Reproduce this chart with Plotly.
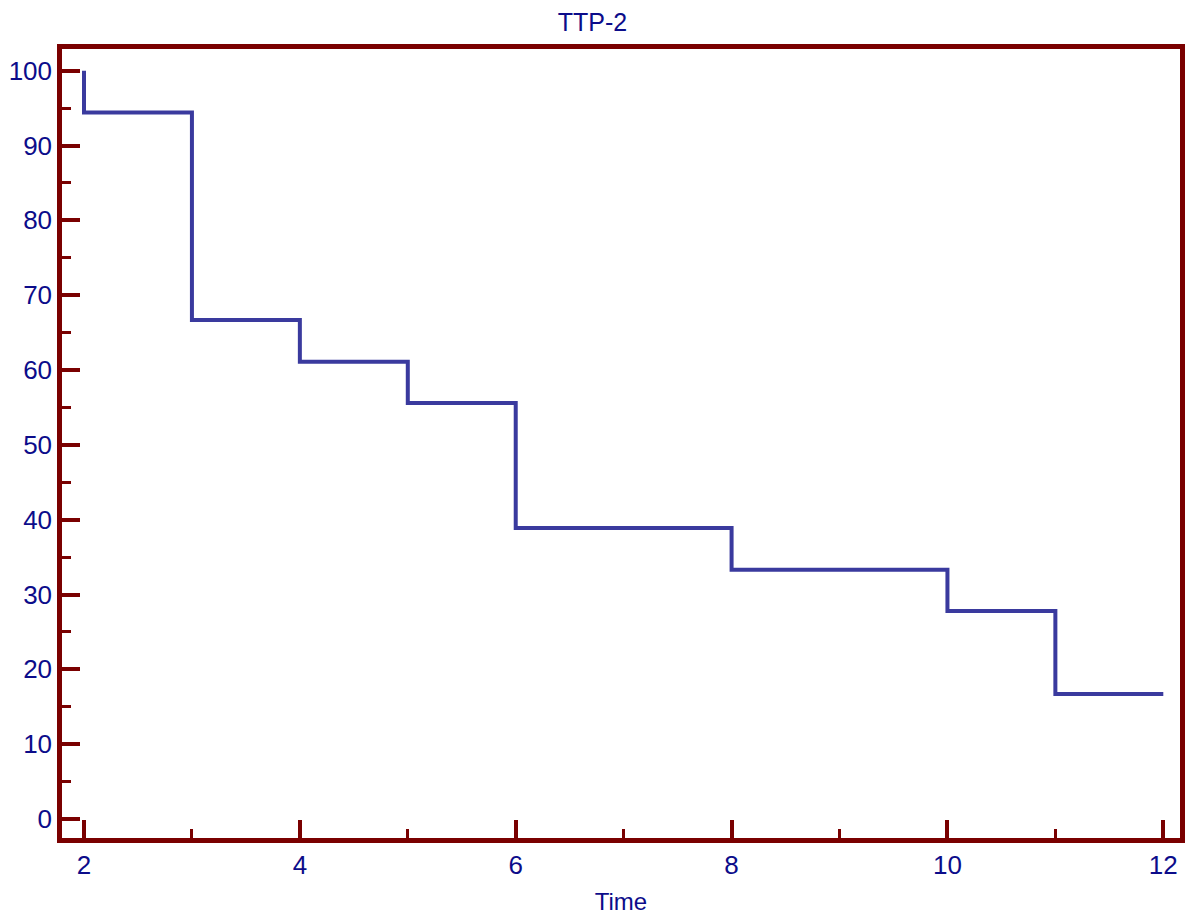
import plotly.graph_objects as go

# Kaplan-Meier style survival data (TTP-2)
event_times = [2, 3, 4, 5, 6, 8, 10, 11]
survival = [94.4, 66.7, 61.1, 55.6, 38.9, 33.3, 27.8, 16.7]
start_time, start_surv = 2, 100.0
end_time = 12

x_tick_vals = [2, 4, 6, 8, 10, 12]
y_tick_vals = [0, 10, 20, 30, 40, 50, 60, 70, 80, 90, 100]

xs = [start_time] + event_times + [end_time]
ys = [start_surv] + survival + [survival[-1]]

frame = "#7a0000"
text_col = "#0c0c8a"
line_col = "#3a3a9e"
font_family = "Liberation Sans, Arial"

fig = go.Figure()
fig.add_trace(go.Scatter(x=xs, y=ys, mode="lines", line=dict(shape="hv", color=line_col, width=4),
                         showlegend=False, hoverinfo="skip"))

axis_common = dict(showline=True, linecolor=frame, linewidth=4.5, mirror=True,
                   ticks="inside", tickcolor=frame, tickwidth=3.5, ticklen=18,
                   showgrid=False, zeroline=False,
                   tickfont=dict(family=font_family, size=26, color=text_col))

W, H = 1185, 915
fig.update_layout(
    width=W, height=H,
    paper_bgcolor="white", plot_bgcolor="white",
    margin=dict(l=62, r=5, t=49, b=77, autoexpand=False),
    title=dict(text="TTP-2", x=0.5, xanchor="center", y=1 - 22/H, yanchor="middle",
               font=dict(family=font_family, size=25, color=text_col)),
    xaxis=dict(range=[1.7962, 12.1547], tickvals=x_tick_vals,
               minor=dict(ticks="inside", ticklen=9, tickwidth=3, tickcolor=frame, dtick=1, tick0=0),
               title=dict(text="Time", standoff=17, font=dict(family=font_family, size=24, color=text_col)),
               **axis_common),
    yaxis=dict(range=[-2.54, 102.9], tickvals=y_tick_vals,
               minor=dict(ticks="inside", ticklen=9, tickwidth=3, tickcolor=frame, dtick=5, tick0=0),
               **axis_common),
)

fig.write_html("out.html", config={"displayModeBar": False},
               post_script="document.body.style.margin='0';document.body.style.overflow='hidden';")
